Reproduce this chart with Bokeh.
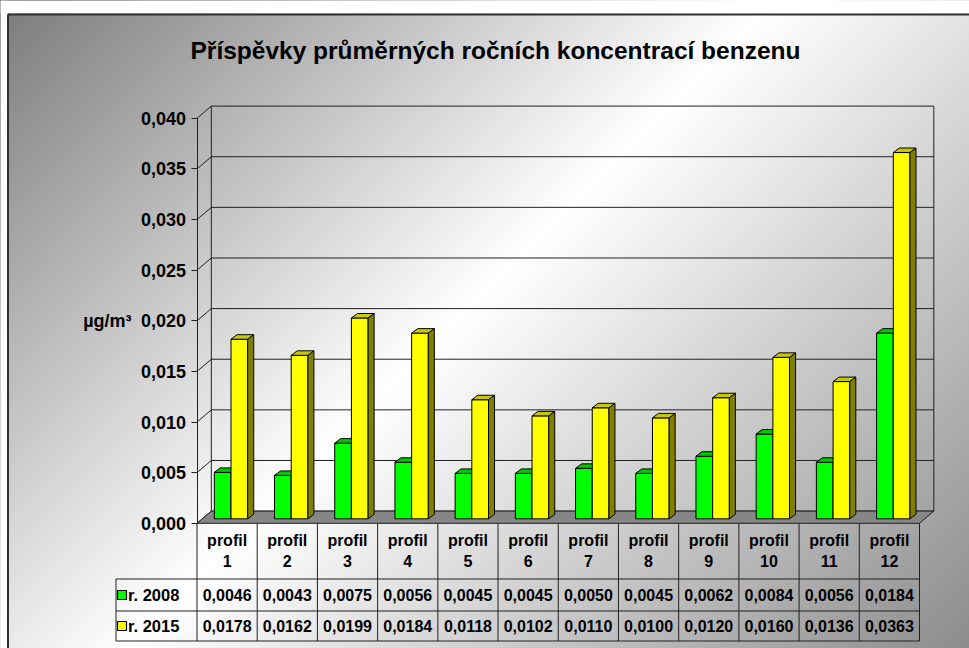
import numpy as np
from bokeh.plotting import figure
from bokeh.models import Range1d, LinearAxis, FixedTicker, CustomJSTickFormatter
from bokeh.embed import file_html
from bokeh.resources import INLINE
from bokeh.core.properties import value

# ---------------- data ----------------
TITLE = "Příspěvky průměrných ročních koncentrací benzenu"
CATEGORIES = ["profil 1", "profil 2", "profil 3", "profil 4", "profil 5", "profil 6",
              "profil 7", "profil 8", "profil 9", "profil 10", "profil 11", "profil 12"]
SERIES = ["r. 2008", "r. 2015"]
VALUES_2008 = [0.0046, 0.0043, 0.0075, 0.0056, 0.0045, 0.0045,
               0.0050, 0.0045, 0.0062, 0.0084, 0.0056, 0.0184]
VALUES_2015 = [0.0178, 0.0162, 0.0199, 0.0184, 0.0118, 0.0102,
               0.0110, 0.0100, 0.0120, 0.0160, 0.0136, 0.0363]
Y_TICKS = [0.000, 0.005, 0.010, 0.015, 0.020, 0.025, 0.030, 0.035, 0.040]
UNIT_LABEL = "µg/m³"

# ---------------- layout (pixel coordinates) ----------------
PX_L, PX_R, PX_T, PX_B = 0, 969, 0, 648
W, H = PX_R - PX_L, PX_B - PX_T
FRAME_X, FRAME_Y = 7.5, 14
AXIS_X = 196.5
TABLE_RIGHT = 919.0
TABLE_LEFT = 115.5
FRONT_Y0 = 522.8
K = 10125.0                 # px per unit on the front axis
DEPTH_DX, DEPTH_DY = 14.3, 12.2
WALL_X0, WALL_X1 = AXIS_X + DEPTH_DX, TABLE_RIGHT + DEPTH_DX
WALL_Y0 = FRONT_Y0 - DEPTH_DY
BAR_Y0, K_BAR = 518.3, 10090.0
BAR_W_PX, BAR_SHIFT_PX, BAR_DX, BAR_DY = 16.7, 3.9, 6.0, 4.5
HEADER_BOTTOM, ROW1_BOTTOM, ROW2_BOTTOM = 578.5, 610.5, 640.5
TITLE_X, TITLE_Y = 495, 50
KEY_X, KEY_SIZE, LABEL_X = 121.5, 9, 127.5
FONT = value("Liberation Sans")
LINE = "#202020"

N = len(CATEGORIES)
PITCH = (TABLE_RIGHT - AXIS_X) / N

p = figure(width=W, height=H, output_backend="svg", toolbar_location=None,
           x_range=Range1d(PX_L, PX_R), y_range=Range1d(PX_B, PX_T),
           x_axis_location=None, y_axis_location=None,
           min_border=0, min_border_left=0, min_border_right=0,
           min_border_top=0, min_border_bottom=0,
           border_fill_color=None, background_fill_color=None,
           outline_line_color=None)
p.grid.visible = False
p.styles = {"background": "linear-gradient(135deg, #7a7a7a 0%, #ffffff 48%, #8c8c8c 100%)"}

p.extra_x_ranges = {
    "cat": Range1d((PX_L - AXIS_X) / PITCH - 0.5, (PX_R - AXIS_X) / PITCH - 0.5),
}
p.extra_y_ranges = {
    "val": Range1d((FRONT_Y0 - PX_B) / K, (FRONT_Y0 - PX_T) / K),
    "wall": Range1d((WALL_Y0 - PX_B) / K, (WALL_Y0 - PX_T) / K),
    "bar": Range1d((BAR_Y0 - PX_B) / K_BAR, (BAR_Y0 - PX_T) / K_BAR),
}

# white margin outside chart border + border lines
p.quad(left=[PX_L, PX_L], right=[PX_R, FRAME_X - 0.5], top=[PX_T, PX_T],
       bottom=[FRAME_Y - 1, PX_B], fill_color="white", line_color=None)
p.segment(x0=[FRAME_X, FRAME_X], y0=[FRAME_Y, FRAME_Y], x1=[PX_R, FRAME_X], y1=[FRAME_Y, PX_B],
          line_color="#303030", line_width=2)

# title
p.text(x=[TITLE_X], y=[TITLE_Y], text=[TITLE], text_font=FONT, text_font_style="bold",
       text_font_size="24.5px", text_align="center", text_baseline="middle", text_color="black")

# back wall grid lines and edges
ymax = Y_TICKS[-1]
p.segment(x0=WALL_X0, x1=WALL_X1, y0=Y_TICKS, y1=Y_TICKS, y_range_name="wall",
          line_color=LINE, line_width=1)
p.segment(x0=[WALL_X0, WALL_X1], x1=[WALL_X0, WALL_X1], y0=[0, 0], y1=[ymax, ymax],
          y_range_name="wall", line_color=LINE, line_width=1)
# side wall diagonals
p.segment(x0=AXIS_X, x1=WALL_X0, y0=Y_TICKS, y1=[t + DEPTH_DY / K for t in Y_TICKS],
          y_range_name="val", line_color=LINE, line_width=1)
# floor
p.patch(x=[AXIS_X, TABLE_RIGHT, WALL_X1, WALL_X0], y=[FRONT_Y0, FRONT_Y0, WALL_Y0, WALL_Y0],
        fill_color="#868686", line_color=LINE, line_width=1)

# 3D bars
idx = np.arange(N)
shift, bw = BAR_SHIFT_PX / PITCH, BAR_W_PX / PITCH
bdx, bdy = BAR_DX / PITCH, BAR_DY / K_BAR
series_vals = [VALUES_2008, VALUES_2015]
series_cols = [("#00ff00", "#00c800", "#008000"), ("#ffff00", "#c8c800", "#808000")]
for j, (vals, (cf, ct, cs)) in enumerate(zip(series_vals, series_cols)):
    vals = np.asarray(vals)
    left = idx + shift - bw + j * bw
    right = left + bw
    p.quad(left=left, right=right, bottom=0, top=vals, x_range_name="cat", y_range_name="bar",
           fill_color=cf, line_color="black", line_width=1)
    p.patches(xs=[[l, r, r + bdx, l + bdx] for l, r in zip(left, right)],
              ys=[[v, v, v + bdy, v + bdy] for v in vals],
              x_range_name="cat", y_range_name="bar",
              fill_color=ct, line_color="black", line_width=1)
    p.patches(xs=[[r, r + bdx, r + bdx, r] for r in right],
              ys=[[0, bdy, v + bdy, v] for v in vals],
              x_range_name="cat", y_range_name="bar",
              fill_color=cs, line_color="black", line_width=1)

# y axis (front)
yaxis = LinearAxis(y_range_name="val", fixed_location=AXIS_X,
                   bounds=(Y_TICKS[0], Y_TICKS[-1]),
                   ticker=FixedTicker(ticks=Y_TICKS, minor_ticks=[]),
                   formatter=CustomJSTickFormatter(code="return tick.toFixed(3).replace('.', ',');"))
yaxis.major_tick_in = 0
yaxis.major_tick_out = 6
yaxis.minor_tick_in = 0
yaxis.minor_tick_out = 0
yaxis.axis_line_color = LINE
yaxis.major_tick_line_color = LINE
yaxis.major_label_text_font = "Liberation Sans"
yaxis.major_label_text_font_style = "bold"
yaxis.major_label_text_font_size = "18px"
yaxis.major_label_text_color = "black"
yaxis.major_label_standoff = 5
p.add_layout(yaxis, "left")

# unit label
p.text(x=[131], y=[Y_TICKS[len(Y_TICKS) // 2]], text=[UNIT_LABEL], y_range_name="val",
       text_font=FONT, text_font_style="bold", text_font_size="18px",
       text_align="right", text_baseline="middle", text_color="black")

# data table
row_c = [(HEADER_BOTTOM + ROW1_BOTTOM) / 2, (ROW1_BOTTOM + ROW2_BOTTOM) / 2]
p.segment(x0=TABLE_LEFT, x1=TABLE_RIGHT, y0=[HEADER_BOTTOM, ROW1_BOTTOM, ROW2_BOTTOM],
          y1=[HEADER_BOTTOM, ROW1_BOTTOM, ROW2_BOTTOM], line_color=LINE, line_width=1)
bounds_x = np.arange(N + 1) - 0.5
p.segment(x0=bounds_x, x1=bounds_x, y0=FRONT_Y0, y1=ROW2_BOTTOM, x_range_name="cat",
          line_color=LINE, line_width=1)
p.segment(x0=[TABLE_LEFT], x1=[TABLE_LEFT], y0=[HEADER_BOTTOM], y1=[ROW2_BOTTOM],
          line_color=LINE, line_width=1)

p.text(x=idx, y=(FRONT_Y0 + HEADER_BOTTOM) / 2, text=[c.replace(" ", "\n") for c in CATEGORIES],
       x_range_name="cat", text_font=FONT, text_font_style="bold", text_font_size="16px",
       text_align="center", text_baseline="middle", text_line_height=1.2, text_color="black")
for r, vals in enumerate(series_vals):
    p.text(x=idx, y=row_c[r], text=[f"{v:.4f}".replace(".", ",") for v in vals],
           x_range_name="cat", text_font=FONT, text_font_style="bold", text_font_size="16px",
           text_align="center", text_baseline="middle", text_color="black")

p.rect(x=KEY_X, y=row_c, width=KEY_SIZE, height=KEY_SIZE, fill_color=[c[0] for c in series_cols],
       line_color="black", line_width=1.2)
p.text(x=LABEL_X, y=row_c, text=SERIES, text_font=FONT, text_font_style="bold",
       text_font_size="16.5px", text_align="left", text_baseline="middle", text_color="black")

open("out.html", "w").write(file_html(p, INLINE))
